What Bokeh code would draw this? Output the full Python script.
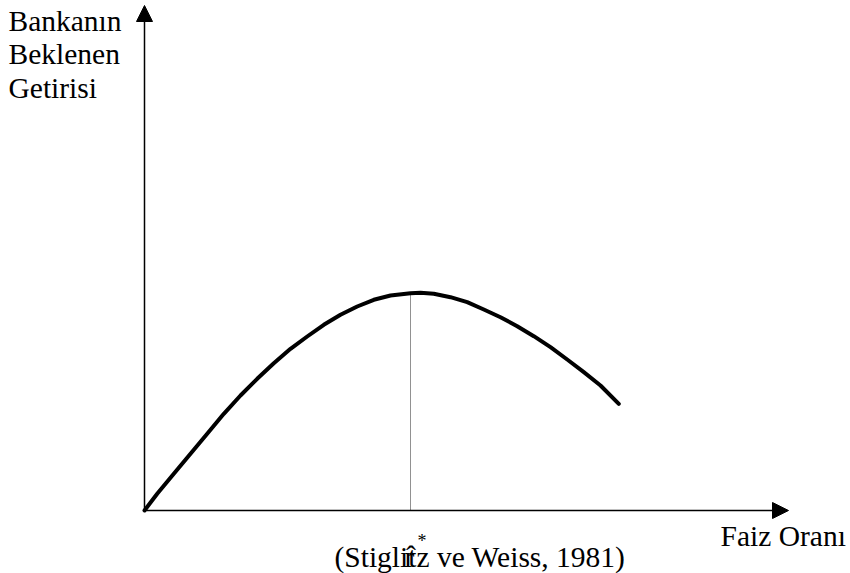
from bokeh.plotting import figure
from bokeh.models import Range1d, Arrow, NormalHead
from bokeh.core.properties import value
from bokeh.embed import file_html
from bokeh.resources import INLINE

# Curve: bank's expected return vs. interest rate (abstract units)
faiz = [0, 12.7, 29.3, 46, 62.7, 79.3, 96, 112.7, 129.3, 146, 162.7, 179.3, 196,
        212.7, 229.3, 246, 266, 276, 289.3, 306, 322.7, 339.3, 356, 372.7, 389.3,
        406, 422.7, 439.3, 456, 474.3]
getiri = [0, 16.7, 36.7, 56.7, 76.7, 96.7, 115, 131.7, 147.3, 161.7, 174, 185.7, 195.7,
          204, 210.7, 215, 217.3, 217.7, 216.7, 213.3, 208.3, 201, 193.3, 184.3, 174.3,
          163.3, 151, 138.3, 125, 106.7]
r_star = [266]
r_star_getiri = [217.5]
x_axis_end = [644]
y_axis_end = [505]

y_labels = ["Bankanın", "Beklenen", "Getirisi"]
x_label = ["Faiz Oranı"]
source_note = ["(Stiglitz ve Weiss, 1981)"]
rstar_label = ["r\u0302"]
star_label = ["*"]

FONT = value("Liberation Serif")
FS = value("29.5px")

p = figure(width=850, height=573, output_backend="svg", toolbar_location=None,
           x_range=Range1d(-144, 706), y_range=Range1d(-63, 510),
           x_axis_type=None, y_axis_type=None, min_border=0)
p.grid.visible = False
p.outline_line_color = None
p.background_fill_color = "white"
p.border_fill_color = "white"

# axes with arrowheads
p.add_layout(Arrow(end=NormalHead(size=16, fill_color="black", line_color="black", line_width=1),
                   x_start=0, y_start=0, x_end=0, y_end=y_axis_end[0],
                   line_color="black", line_width=1.5))
p.add_layout(Arrow(end=NormalHead(size=16, fill_color="black", line_color="black", line_width=1),
                   x_start=0, y_start=0, x_end=x_axis_end[0], y_end=0,
                   line_color="black", line_width=1.5))

# dotted guide at r*
p.segment(x0=r_star, y0=[0], x1=r_star, y1=r_star_getiri,
          line_color="#222222", line_width=1, line_dash="1 1")

# curve
p.line(faiz, getiri, line_color="black", line_width=4, line_join="round", line_cap="round")

# y-axis label lines
p.text(x=[-136] * 3, y=[490, 457, 423], text=y_labels, text_font=FONT,
       text_font_size=FS, text_color="black", text_baseline="alphabetic")
# x-axis label
p.text(x=[576], y=[-25], text=x_label, text_font=FONT,
       text_font_size=FS, text_color="black", text_baseline="alphabetic")
# source note
p.text(x=[190], y=[-46], text=source_note, text_font=FONT,
       text_font_size=FS, text_color="black", text_baseline="alphabetic")
# r-hat and star
p.text(x=[260], y=[-46], text=rstar_label, text_font=FONT,
       text_font_size=FS, text_color="black", text_baseline="alphabetic")
p.text(x=[273], y=[-30], text=star_label, text_font=FONT,
       text_font_size=value("18px"), text_color="black", text_baseline="alphabetic")

open("out.html", "w").write(file_html(p, INLINE))
